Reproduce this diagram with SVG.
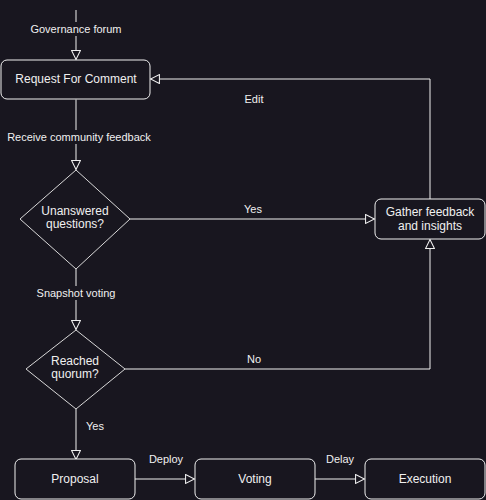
<svg xmlns="http://www.w3.org/2000/svg" width="486" height="500" viewBox="0 0 486 500">
<style>
.bg{fill:#18161f}
.node{fill:#18161f;stroke:#f0f0f0;stroke-width:1}
.dia{fill:#18161f;stroke:#d8d8d8;stroke-width:1}
.edge{fill:none;stroke:#f0f0f0;stroke-width:1}
.t{font-family:"Liberation Sans",Arial,sans-serif;font-size:12px;fill:#f0f0f0;text-anchor:middle;dominant-baseline:central}
.l{font-family:"Liberation Sans",Arial,sans-serif;font-size:11px;fill:#f0f0f0;text-anchor:middle;dominant-baseline:central}
.lb{fill:#18161f}
</style>
<defs>
<marker id="arr" viewBox="0 0 10 10" refX="9.5" refY="5" markerWidth="10.5" markerHeight="10.5" markerUnits="userSpaceOnUse" orient="auto">
<path d="M1,0.8 L9.5,5 L1,9.2 Z" fill="#18161f" stroke="#f0f0f0" stroke-width="1"/>
</marker>
</defs>
<rect class="bg" x="0" y="0" width="486" height="500"/>
<g id="connectors">
<path class="edge" d="M76,10 V59.5" marker-end="url(#arr)"/>
<rect class="lb" x="29" y="22" width="96" height="14"/>
<text class="l" x="76" y="29">Governance forum</text>
<path class="edge" d="M76,99.5 V169.5" marker-end="url(#arr)"/>
<rect class="lb" x="6" y="130" width="146" height="14"/>
<text class="l" x="79" y="137">Receive community feedback</text>
<path class="edge" d="M130,219 H374.5" marker-end="url(#arr)"/>
<text class="l" x="253" y="209">Yes</text>
<path class="edge" d="M430,199 V79 H150.5" marker-end="url(#arr)"/>
<text class="l" x="254" y="99">Edit</text>
<path class="edge" d="M76,269 V329.5" marker-end="url(#arr)"/>
<rect class="lb" x="36" y="286" width="80" height="14"/>
<text class="l" x="76" y="293">Snapshot voting</text>
<path class="edge" d="M125,369 H430 V239.5" marker-end="url(#arr)"/>
<text class="l" x="254" y="359">No</text>
<path class="edge" d="M76,409 V459.5" marker-end="url(#arr)"/>
<text class="l" x="95" y="426">Yes</text>
<path class="edge" d="M135,479 H194.5" marker-end="url(#arr)"/>
<text class="l" x="166" y="459">Deploy</text>
<path class="edge" d="M315,479 H364.5" marker-end="url(#arr)"/>
<text class="l" x="340" y="459">Delay</text>
</g>
<g id="rfc">
<rect class="node" x="1" y="60" width="149" height="39" rx="6"/>
<text class="t" x="76" y="79">Request For Comment</text>
</g>
<g id="unanswered">
<path class="dia" d="M76,170 L130,219 L76,269 L20,219 Z"/>
<text class="t" x="75" y="211">Unanswered</text>
<text class="t" x="75" y="224">questions?</text>
</g>
<g id="gather">
<rect class="node" x="375" y="199" width="110" height="40" rx="6"/>
<text class="t" x="430" y="212">Gather feedback</text>
<text class="t" x="430" y="226">and insights</text>
</g>
<g id="quorum">
<path class="dia" d="M76,330 L125,369 L76,409 L26,369 Z"/>
<text class="t" x="75" y="361">Reached</text>
<text class="t" x="75" y="374">quorum?</text>
</g>
<g id="proposal">
<rect class="node" x="15" y="459" width="120" height="40" rx="6"/>
<text class="t" x="75" y="479">Proposal</text>
</g>
<g id="voting">
<rect class="node" x="195" y="459" width="120" height="40" rx="6"/>
<text class="t" x="255" y="479">Voting</text>
</g>
<g id="execution">
<rect class="node" x="365" y="459" width="120" height="40" rx="6"/>
<text class="t" x="425" y="479">Execution</text>
</g>
</svg>
